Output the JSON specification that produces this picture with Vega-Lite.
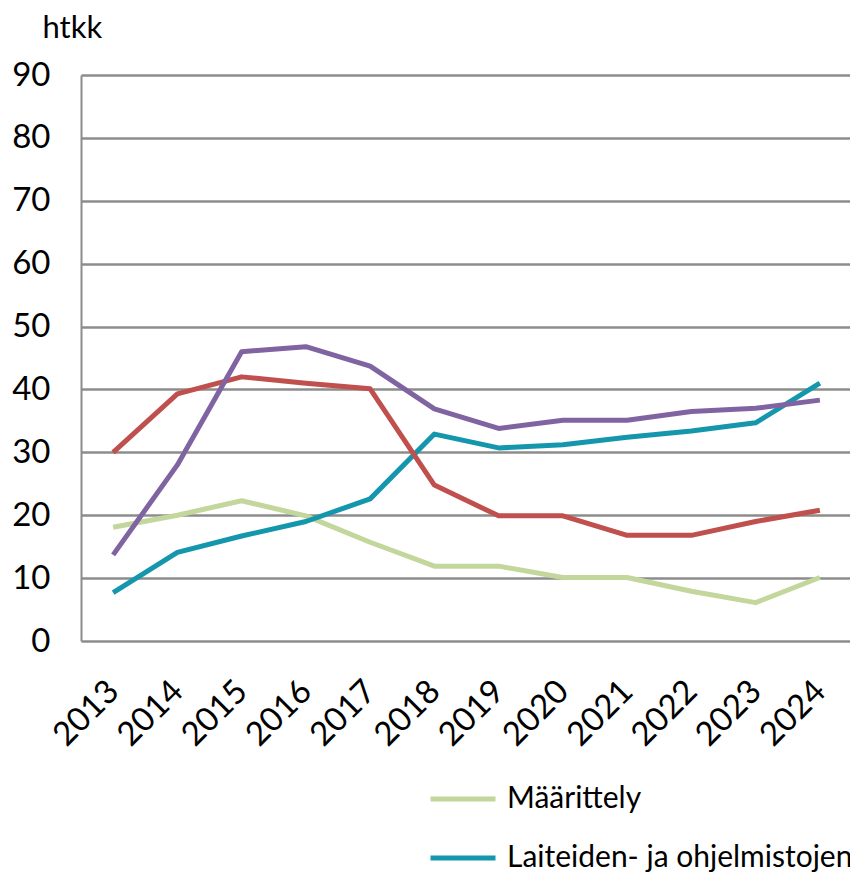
{
  "$schema": "https://vega.github.io/schema/vega-lite/v6.json",
  "autosize": {"type": "none"},
  "padding": {"left": 81, "top": 75, "right": 0, "bottom": 232},
  "width": 771,
  "height": 566,
  "background": "white",
  "config": {
    "font": "Lato",
    "view": {"stroke": null}
  },
  "data": {
    "values": [
      {"year": "2013", "series": "Määrittely", "value": 18.1},
      {"year": "2014", "series": "Määrittely", "value": 20},
      {"year": "2015", "series": "Määrittely", "value": 22.3},
      {"year": "2016", "series": "Määrittely", "value": 19.9},
      {"year": "2017", "series": "Määrittely", "value": 15.7},
      {"year": "2018", "series": "Määrittely", "value": 11.9},
      {"year": "2019", "series": "Määrittely", "value": 11.9},
      {"year": "2020", "series": "Määrittely", "value": 10.1},
      {"year": "2021", "series": "Määrittely", "value": 10.1},
      {"year": "2022", "series": "Määrittely", "value": 7.9},
      {"year": "2023", "series": "Määrittely", "value": 6.1},
      {"year": "2024", "series": "Määrittely", "value": 10.1},
      {"year": "2013", "series": "Laiteiden- ja ohjelmistojen hankinta", "value": 7.7},
      {"year": "2014", "series": "Laiteiden- ja ohjelmistojen hankinta", "value": 14.1},
      {"year": "2015", "series": "Laiteiden- ja ohjelmistojen hankinta", "value": 16.7},
      {"year": "2016", "series": "Laiteiden- ja ohjelmistojen hankinta", "value": 19},
      {"year": "2017", "series": "Laiteiden- ja ohjelmistojen hankinta", "value": 22.6},
      {"year": "2018", "series": "Laiteiden- ja ohjelmistojen hankinta", "value": 32.9},
      {"year": "2019", "series": "Laiteiden- ja ohjelmistojen hankinta", "value": 30.7},
      {"year": "2020", "series": "Laiteiden- ja ohjelmistojen hankinta", "value": 31.2},
      {"year": "2021", "series": "Laiteiden- ja ohjelmistojen hankinta", "value": 32.4},
      {"year": "2022", "series": "Laiteiden- ja ohjelmistojen hankinta", "value": 33.4},
      {"year": "2023", "series": "Laiteiden- ja ohjelmistojen hankinta", "value": 34.7},
      {"year": "2024", "series": "Laiteiden- ja ohjelmistojen hankinta", "value": 41},
      {"year": "2013", "series": "Toteutus", "value": 30},
      {"year": "2014", "series": "Toteutus", "value": 39.3},
      {"year": "2015", "series": "Toteutus", "value": 42},
      {"year": "2016", "series": "Toteutus", "value": 41},
      {"year": "2017", "series": "Toteutus", "value": 40.1},
      {"year": "2018", "series": "Toteutus", "value": 24.8},
      {"year": "2019", "series": "Toteutus", "value": 19.9},
      {"year": "2020", "series": "Toteutus", "value": 19.9},
      {"year": "2021", "series": "Toteutus", "value": 16.8},
      {"year": "2022", "series": "Toteutus", "value": 16.8},
      {"year": "2023", "series": "Toteutus", "value": 19},
      {"year": "2024", "series": "Toteutus", "value": 20.8},
      {"year": "2013", "series": "Ylläpito", "value": 13.7},
      {"year": "2014", "series": "Ylläpito", "value": 28},
      {"year": "2015", "series": "Ylläpito", "value": 46},
      {"year": "2016", "series": "Ylläpito", "value": 46.8},
      {"year": "2017", "series": "Ylläpito", "value": 43.7},
      {"year": "2018", "series": "Ylläpito", "value": 36.9},
      {"year": "2019", "series": "Ylläpito", "value": 33.8},
      {"year": "2020", "series": "Ylläpito", "value": 35.1},
      {"year": "2021", "series": "Ylläpito", "value": 35.1},
      {"year": "2022", "series": "Ylläpito", "value": 36.5},
      {"year": "2023", "series": "Ylläpito", "value": 37},
      {"year": "2024", "series": "Ylläpito", "value": 38.3}
    ]
  },
  "mark": {"type": "line", "strokeWidth": 5, "strokeJoin": "round", "strokeCap": "butt"},
  "encoding": {
    "x": {
      "field": "year",
      "type": "ordinal",
      "scale": {"type": "point", "padding": 0.5},
      "axis": {
        "title": null,
        "labelAngle": -45,
        "labelAlign": "right",
        "labelBaseline": "middle",
        "labelFontSize": 33,
        "labelColor": "black",
        "labelPadding": 45,
        "ticks": false,
        "domain": false,
        "grid": false
      }
    },
    "y": {
      "field": "value",
      "type": "quantitative",
      "scale": {"domain": [0, 90], "nice": false},
      "axis": {
        "values": [0, 10, 20, 30, 40, 50, 60, 70, 80, 90],
        "title": "htkk",
        "titleAngle": 0,
        "titleAlign": "left",
        "titleBaseline": "alphabetic",
        "titleX": -39,
        "titleY": -38,
        "titleFontSize": 31,
        "titleFontWeight": "normal",
        "titleColor": "black",
        "labelFontSize": 33,
        "labelColor": "black",
        "labelPadding": 31,
        "ticks": false,
        "domain": true,
        "domainColor": "#8c8c8c",
        "domainWidth": 2,
        "grid": true,
        "gridColor": "#8c8c8c",
        "gridWidth": 2.5,
        "gridOpacity": 1
      }
    },
    "color": {
      "field": "series",
      "type": "nominal",
      "scale": {
        "domain": ["Määrittely", "Laiteiden- ja ohjelmistojen hankinta", "Toteutus", "Ylläpito"],
        "range": ["#c3d69b", "#1496ac", "#c0504d", "#8064a2"]
      },
      "legend": {
        "title": null,
        "orient": "none",
        "legendX": 347,
        "legendY": 689,
        "padding": 0,
        "symbolType": "stroke",
        "symbolSize": 4225,
        "symbolStrokeWidth": 5,
        "rowPadding": 9,
        "labelFontSize": 30,
        "labelColor": "black",
        "labelOffset": 9,
        "labelLimit": 0
      }
    }
  }
}
